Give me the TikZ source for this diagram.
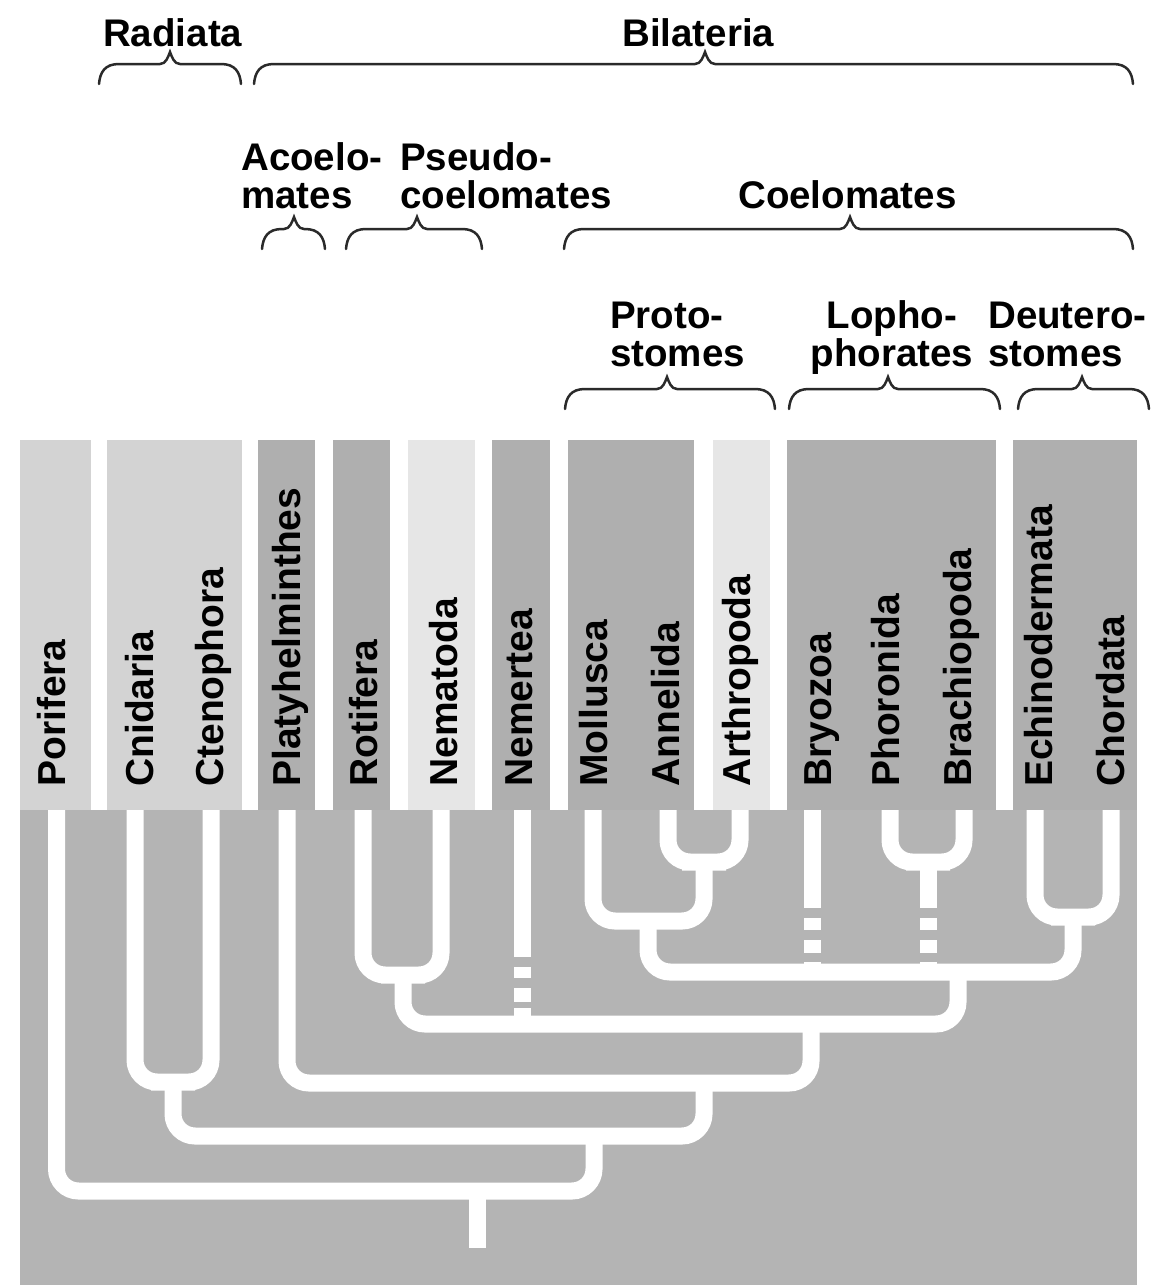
\documentclass[tikz,border=0pt]{standalone}
\usepackage{fontspec}
\setmainfont{Liberation Sans}
\usetikzlibrary{calc}
\definecolor{bandlight}{HTML}{D3D3D3}
\definecolor{bandvlight}{HTML}{E6E6E6}
\definecolor{banddark}{HTML}{AFAFAF}
\definecolor{treebg}{HTML}{B4B4B4}
\definecolor{bracecol}{HTML}{2A2A2A}
\newcommand{\cladebrace}[4]{%
  \draw[bracestyle] (#1,#4+32) .. controls (#1+1,#4+20) and (#1+6,#4+12) .. (#1+20,#4+12)
    -- (#2-10,#4+12) .. controls (#2-4,#4+12) and (#2-2,#4+5) .. (#2,#4)
    .. controls (#2+2,#4+5) and (#2+4,#4+12) .. (#2+10,#4+12)
    -- (#3-20,#4+12) .. controls (#3-6,#4+12) and (#3-1,#4+20) .. (#3,#4+32);}
\begin{document}
\begin{tikzpicture}[x=1pt,y=-1pt,
  branch/.style={draw=white, line width=17pt, rounded corners=22pt, line cap=butt},
  taxon/.style={rotate=90, anchor=base west, inner sep=0pt, font=\bfseries\fontsize{39}{40}\selectfont},
  grouplabel/.style={inner sep=0pt, align=left, font=\bfseries\fontsize{38.5}{38}\selectfont},
  bracestyle/.style={draw=bracecol, line width=2.5pt, line cap=round}]
\useasboundingbox (0,0) rectangle (1154,1285);
\fill[white] (0,0) rectangle (1154,1285);

% bands
\fill[bandlight]  (20,440) rectangle (91,810);
\fill[bandlight]  (107,440) rectangle (242,810);
\fill[banddark]   (258,440) rectangle (315,810);
\fill[banddark]   (333,440) rectangle (390,810);
\fill[bandvlight] (408,440) rectangle (475,810);
\fill[banddark]   (492,440) rectangle (550,810);
\fill[banddark]   (568,440) rectangle (694,810);
\fill[bandvlight] (713,440) rectangle (770,810);
\fill[banddark]   (787,440) rectangle (996,810);
\fill[banddark]   (1013,440) rectangle (1137,810);
% tree area
\fill[treebg] (20,810) rectangle (1137,1285);

% taxon labels
\node[taxon] (lPor) at (65,787) {Porifera};
\node[taxon] (lCni) at (153,787) {Cnidaria};
\node[taxon] (lCte) at (223,787) {Ctenophora};
\node[taxon] (lPla) at (300,787) {Platyhelminthes};
\node[taxon] (lRot) at (377,787) {Rotifera};
\node[taxon] (lNmt) at (457,787) {Nematoda};
\node[taxon] (lNmr) at (532,787) {Nemertea};
\node[taxon] (lMol) at (607,787) {Mollusca};
\node[taxon] (lAnn) at (679,787) {Annelida};
\node[taxon] (lArt) at (750,787) {Arthropoda};
\node[taxon] (lBry) at (831,787) {Bryozoa};
\node[taxon] (lPho) at (899,787) {Phoronida};
\node[taxon] (lBra) at (971,787) {Brachiopoda};
\node[taxon] (lEch) at (1052,787) {Echinodermata};
\node[taxon] (lCho) at (1124,787) {Chordata};

% leaf tops
\coordinate (Por) at (56.5,810);
\coordinate (Cni) at (135,810);
\coordinate (Cte) at (211,810);
\coordinate (Pla) at (287,810);
\coordinate (Rot) at (363,810);
\coordinate (Nmt) at (441,810);
\coordinate (Nmr) at (522,810);
\coordinate (Mol) at (593,810);
\coordinate (Ann) at (668,810);
\coordinate (Art) at (740,810);
\coordinate (Bry) at (812,810);
\coordinate (Pho) at (890,810);
\coordinate (Bra) at (964,810);
\coordinate (Ech) at (1035,810);
\coordinate (Cho) at (1111,810);
% internal nodes
\coordinate (nAA) at (704,862);
\coordinate (nP) at (648,921);
\coordinate (nL) at (928,862);
\coordinate (nD) at (1073,917);
\coordinate (nC) at (958,972);
\coordinate (nRN) at (403,975);
\coordinate (nPs) at (811,1024);
\coordinate (nB) at (704,1083);
\coordinate (nR) at (173,1082);
\coordinate (nE) at (594,1136);
\coordinate (nRoot) at (477,1191);
\coordinate (rootEnd) at (477,1248);

% tree
\draw[branch] (Ann) |- (nAA) -| (Art);
\draw[branch] (Mol) |- (nP) -| (nAA);
\draw[branch] (Pho) |- (nL) -| (Bra);
\draw[branch] (Ech) |- (nD) -| (Cho);
\draw[branch] (nP) |- (nC) -| (nD);
\draw[branch, rounded corners=0pt, dash pattern=on 98pt off 10pt on 12pt off 10pt on 13pt off 9pt on 100pt] (Bry) -- (Bry |- nC);
\draw[branch, rounded corners=0pt, dash pattern=on 46pt off 10pt on 12pt off 10pt on 13pt off 9pt on 100pt] (nL) -- (nL |- nC);
\draw[branch] (Rot) |- (nRN) -| (Nmt);
\draw[branch] (nRN) |- (nPs) -| (nC);
\draw[branch, rounded corners=0pt, dash pattern=on 147pt off 10pt on 11pt off 10pt on 14pt off 6pt on 100pt] (Nmr) -- (Nmr |- nPs);
\draw[branch] (Pla) |- (nB) -| (nPs);
\draw[branch] (Cni) |- (nR) -| (Cte);
\draw[branch] (nR) |- (nE) -| (nB);
\draw[branch] (Por) |- (nRoot) -| (nE);
\draw[branch] (nRoot) -- (rootEnd);

% group labels (base anchor = baseline of last line)
\node[grouplabel, anchor=base west] (gRad) at (103,46) {Radiata};
\node[grouplabel, anchor=base west] (gBil) at (622,46) {Bilateria};
\node[grouplabel, anchor=base west] (gAco) at (241,208) {Acoelo-\\mates};
\node[grouplabel, anchor=base west] (gPse) at (400,208) {Pseudo-\\coelomates};
\node[grouplabel, anchor=base west] (gCoe) at (738,208) {Coelomates};
\node[grouplabel, anchor=base west] (gPro) at (610,366) {Proto-\\stomes};
\node[grouplabel, anchor=base, align=center] (gLop) at (892,366) {Lopho-\\phorates};
\node[grouplabel, anchor=base west] (gDeu) at (988,366) {Deutero-\\stomes};

% braces
\cladebrace{99}{170}{241}{52}
\cladebrace{254}{705}{1133}{52}
\cladebrace{262}{294}{325}{217}
\cladebrace{346}{417}{482}{217}
\cladebrace{564}{850}{1133}{217}
\cladebrace{565}{667}{775}{377}
\cladebrace{789}{888}{1000}{377}
\cladebrace{1018}{1082}{1149}{377}
\end{tikzpicture}
\end{document}
